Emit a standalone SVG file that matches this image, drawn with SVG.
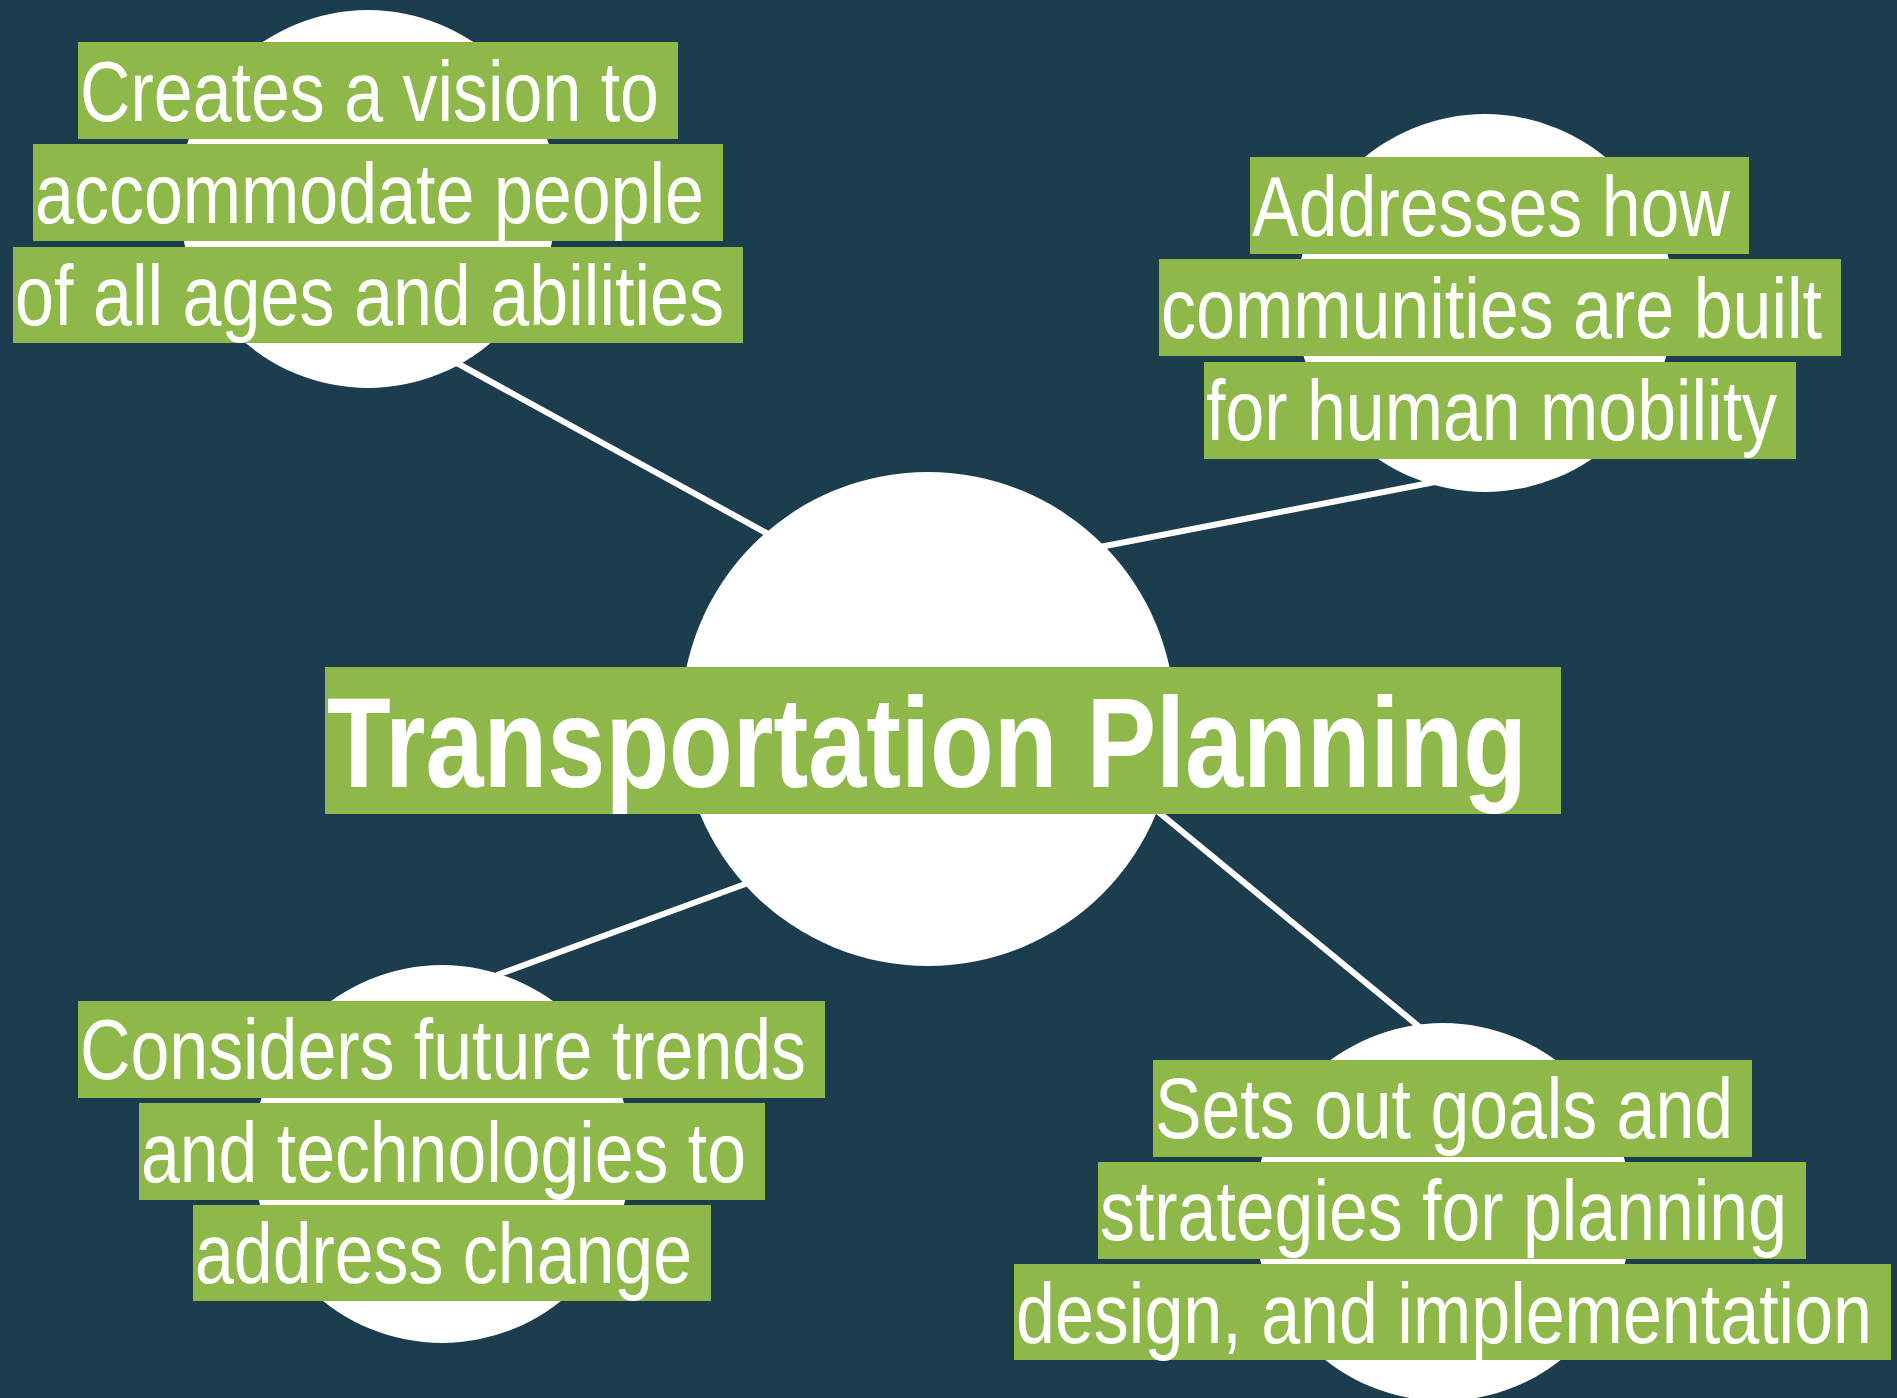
<svg xmlns="http://www.w3.org/2000/svg" width="1897" height="1398" viewBox="0 0 1897 1398">
<style>
.bg{fill:#1b3d4e}
.circ{fill:#ffffff}
.box{fill:#8eb84a}
.lbl{font-family:"Liberation Sans",Arial,sans-serif;font-size:86px;fill:#ffffff}
.title{font-family:"Liberation Sans",Arial,sans-serif;font-size:128px;font-weight:bold;fill:#ffffff}
.edge{stroke:#ffffff;stroke-width:6;fill:none}
</style>
<rect class="bg" x="0" y="0" width="1897" height="1398"/>
<g id="connectors">
<line class="edge" x1="455" y1="362" x2="770" y2="535"/>
<line class="edge" x1="1100" y1="547" x2="1435" y2="482"/>
<line class="edge" x1="497" y1="975" x2="748" y2="883"/>
<line class="edge" x1="1156" y1="810" x2="1422" y2="1029"/>
</g>
<g id="node-center">
<circle class="circ" cx="928" cy="719" r="247"/>
<rect class="box" x="325" y="667" width="1236" height="147"/>
<text class="title" x="327" y="787" textLength="1200" lengthAdjust="spacingAndGlyphs">Transportation Planning</text>
</g>
<g id="node-vision">
<circle class="circ" cx="368" cy="199" r="189"/>
<rect class="box" x="78" y="42" width="600" height="97"/>
<rect class="box" x="33" y="144" width="690" height="97"/>
<rect class="box" x="13" y="247" width="730" height="96"/>
<text class="lbl" x="80" y="121" textLength="579" lengthAdjust="spacingAndGlyphs">Creates a vision to</text>
<text class="lbl" x="35" y="223" textLength="669" lengthAdjust="spacingAndGlyphs">accommodate people</text>
<text class="lbl" x="15" y="325" textLength="709" lengthAdjust="spacingAndGlyphs">of all ages and abilities</text>
</g>
<g id="node-communities">
<circle class="circ" cx="1485" cy="303" r="189"/>
<rect class="box" x="1250" y="157" width="499" height="97"/>
<rect class="box" x="1159" y="259" width="682" height="97"/>
<rect class="box" x="1204" y="362" width="592" height="97"/>
<text class="lbl" x="1252" y="236" textLength="478" lengthAdjust="spacingAndGlyphs">Addresses how</text>
<text class="lbl" x="1161" y="338" textLength="661" lengthAdjust="spacingAndGlyphs">communities are built</text>
<text class="lbl" x="1206" y="440" textLength="571" lengthAdjust="spacingAndGlyphs">for human mobility</text>
</g>
<g id="node-future">
<circle class="circ" cx="442" cy="1154" r="189"/>
<rect class="box" x="78" y="1001" width="747" height="97"/>
<rect class="box" x="139" y="1103" width="626" height="97"/>
<rect class="box" x="193" y="1205" width="518" height="96"/>
<text class="lbl" x="80" y="1079" textLength="726" lengthAdjust="spacingAndGlyphs">Considers future trends</text>
<text class="lbl" x="141" y="1182" textLength="605" lengthAdjust="spacingAndGlyphs">and technologies to</text>
<text class="lbl" x="195" y="1283" textLength="497" lengthAdjust="spacingAndGlyphs">address change</text>
</g>
<g id="node-goals">
<circle class="circ" cx="1443" cy="1212" r="189"/>
<rect class="box" x="1153" y="1060" width="599" height="97"/>
<rect class="box" x="1098" y="1162" width="708" height="97"/>
<rect class="box" x="1014" y="1264" width="877" height="96"/>
<text class="lbl" x="1155" y="1138" textLength="578" lengthAdjust="spacingAndGlyphs">Sets out goals and</text>
<text class="lbl" x="1100" y="1240" textLength="687" lengthAdjust="spacingAndGlyphs">strategies for planning</text>
<text class="lbl" x="1016" y="1343" textLength="856" lengthAdjust="spacingAndGlyphs">design, and implementation</text>
</g>
</svg>
